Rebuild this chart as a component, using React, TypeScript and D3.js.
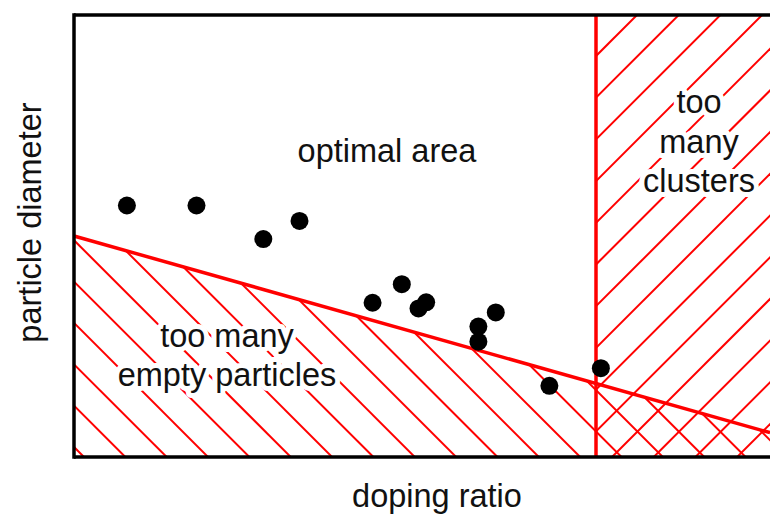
import React from "react";
import * as d3 from "d3";

// ---- data ----
const xDomain = [0, 10]; // doping ratio (arbitrary units)
const yDomain = [0, 10]; // particle diameter (arbitrary units)

const dopingRatio = [0.76, 1.76, 2.72, 3.24, 4.29, 4.71, 4.95, 5.06, 5.81, 5.81, 6.06, 6.83, 7.57];
const particleDiameter = [5.69, 5.69, 4.93, 5.34, 3.49, 3.91, 3.36, 3.5, 2.95, 2.61, 3.27, 1.61, 2.01];

// lower limit for particle diameter (below: too many empty particles)
const limitX = [0, 10];
const limitY = [5.0, 0.55];
// upper limit for doping ratio (right: too many clusters)
const clusterLimit = 7.5;

const regionLabels = ["optimal area"];
const emptyLabel = ["too many", "empty particles"];
const clusterLabel = ["too", "many", "clusters"];
const xLabel = "doping ratio";
const yLabel = "particle diameter";

const W = 770;
const H = 516;
const FONT = "'Liberation Sans', Arial, Helvetica, sans-serif";
const RED = "#ff0000";

export default function App() {
  const x = d3.scaleLinear().domain(xDomain).range([74, 770]);
  const y = d3.scaleLinear().domain(yDomain).range([457, 15]);

  const x0 = x(xDomain[0]);
  const x1 = x(xDomain[1]);
  const yTop = y(yDomain[1]);
  const yBot = y(yDomain[0]);

  const line = d3
    .line<number>()
    .x((_, i) => x(limitX[i]))
    .y((d) => y(d));

  const emptyPoly = [
    [x(limitX[0]), y(limitY[0])],
    [x(limitX[1]), y(limitY[1])],
    [x(limitX[1]), yBot],
    [x(limitX[0]), yBot],
  ]
    .map((p) => p.join(","))
    .join(" ");

  // hatch lines (decoration)
  const back: number[] = [];
  for (let k = -6; k <= 22; k++) back.push(373 - 41.35 * k);
  const fwd: number[] = [];
  for (let k = -6; k <= 24; k++) fwd.push(652 + 41.7 * k);

  const halo = {
    stroke: "#fff",
    strokeWidth: 10,
    strokeLinejoin: "round" as const,
    paintOrder: "stroke" as const,
  };

  return (
    <div style={{ position: "absolute", left: 0, top: 0 }}>
      <svg width={W} height={H} style={{ display: "block", background: "#fff" }}>
        <defs>
          <clipPath id="clipEmpty">
            <polygon points={emptyPoly} />
          </clipPath>
          <clipPath id="clipCluster">
            <rect x={x(clusterLimit)} y={yTop} width={x1 - x(clusterLimit)} height={yBot - yTop} />
          </clipPath>
        </defs>

        <g clipPath="url(#clipEmpty)" stroke={RED} strokeWidth={2}>
          {back.map((d, i) => (
            <line key={i} x1={0} y1={d} x2={800} y2={d + 800} />
          ))}
        </g>
        <g clipPath="url(#clipCluster)" stroke={RED} strokeWidth={2}>
          {fwd.map((c, i) => (
            <line key={i} x1={0} y1={c} x2={800} y2={c - 800} />
          ))}
        </g>

        <path d={line(limitY) || ""} fill="none" stroke={RED} strokeWidth={3.5} />
        <line
          x1={x(clusterLimit)}
          x2={x(clusterLimit)}
          y1={yTop}
          y2={yBot}
          stroke={RED}
          strokeWidth={3.5}
        />

        <g fontFamily={FONT} fontSize={32.5} fill="#111" textAnchor="middle">
          <text x={387} y={162}>
            {regionLabels[0]}
          </text>
          {emptyLabel.map((t, i) => (
            <text key={t} x={227} y={347 + i * 38.5} {...halo}>
              {t}
            </text>
          ))}
          {clusterLabel.map((t, i) => (
            <text key={t} x={699} y={113 + i * 39.5} {...halo}>
              {t}
            </text>
          ))}
          <text x={437} y={507}>
            {xLabel}
          </text>
          <text transform="translate(41,222.5) rotate(-90)">{yLabel}</text>
        </g>

        {dopingRatio.map((d, i) => (
          <circle key={i} cx={x(d)} cy={y(particleDiameter[i])} r={9} fill="#000" />
        ))}

        <g stroke="#000" strokeWidth={3.5} fill="none">
          <line x1={x0} x2={x0} y1={yTop - 1.75} y2={yBot + 1.75} />
          <line x1={x0} x2={x1} y1={yTop} y2={yTop} />
          <line x1={x0} x2={x1} y1={yBot} y2={yBot} />
        </g>
      </svg>
    </div>
  );
}
